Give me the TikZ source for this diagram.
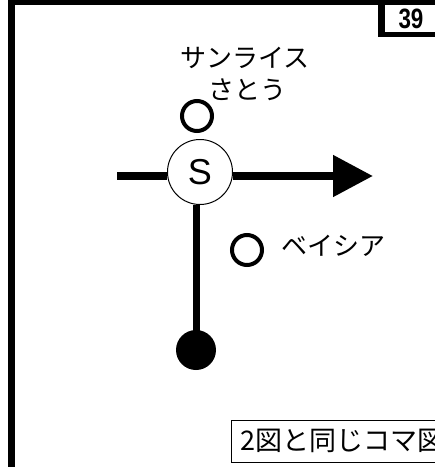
\documentclass[tikz,border=0pt]{standalone}
\usepackage{fontspec}
\setmainfont{Liberation Sans}
\newfontfamily\jp{Noto Sans CJK JP}
\usetikzlibrary{arrows.meta}
\begin{document}
\begin{tikzpicture}[x=1pt,y=-1pt,
  jplabel/.style={font=\jp\fontsize{26}{28}\selectfont, inner sep=0pt},
  road/.style={line width=8pt},
  landmark/.style={circle, draw, line width=4pt, minimum size=30pt, inner sep=0pt},
  frameline/.style={fill=black}]
\useasboundingbox (0,0) rectangle (435,467);
\clip (0,0) rectangle (435,467);
% frame
\fill[frameline] (8,0) rectangle (15,467);
\fill[frameline] (8,0) rectangle (435,5);
\fill[frameline] (378,0) rectangle (385,37);
\fill[frameline] (378,32) rectangle (435,37);
\node[font=\bfseries\fontsize{28}{28}\selectfont, xscale=0.8, inner sep=0pt] (num) at (411,19) {39};
% roads
\coordinate (west) at (117,176);
\coordinate (tip) at (373,176);
\node[circle, draw, line width=1pt, fill=white, minimum size=65pt, inner sep=0pt,
  font=\fontsize{36}{36}\selectfont] (S) at (200,172) {S};
\node[circle, fill=black, minimum size=40pt, inner sep=0pt] (dot) at (196,350) {};
\draw[road] (west) -- (west -| S.west);
\draw[road, -{Triangle[length=40pt,width=40pt]}] (tip -| S.east) -- (tip);
\draw[line width=7pt] (S.south -| dot.center) -- (dot.center);
% landmarks
\node[landmark] (lm1) at (197,116) {};
\node[landmark] (lm2) at (247,250) {};
\node[jplabel] (t1) at (245,58) {サンライス};
\node[jplabel] (t2) at (247,90) {さとう};
\node[jplabel] (t3) at (333,246) {ベイシア};
% note box
\node[draw, line width=1pt, anchor=west, inner xsep=9pt, inner ysep=0pt, minimum height=42pt,
  font=\jp\fontsize{27}{29}\selectfont] (note) at (231,441) {2図と同じコマ図};
\end{tikzpicture}
\end{document}
